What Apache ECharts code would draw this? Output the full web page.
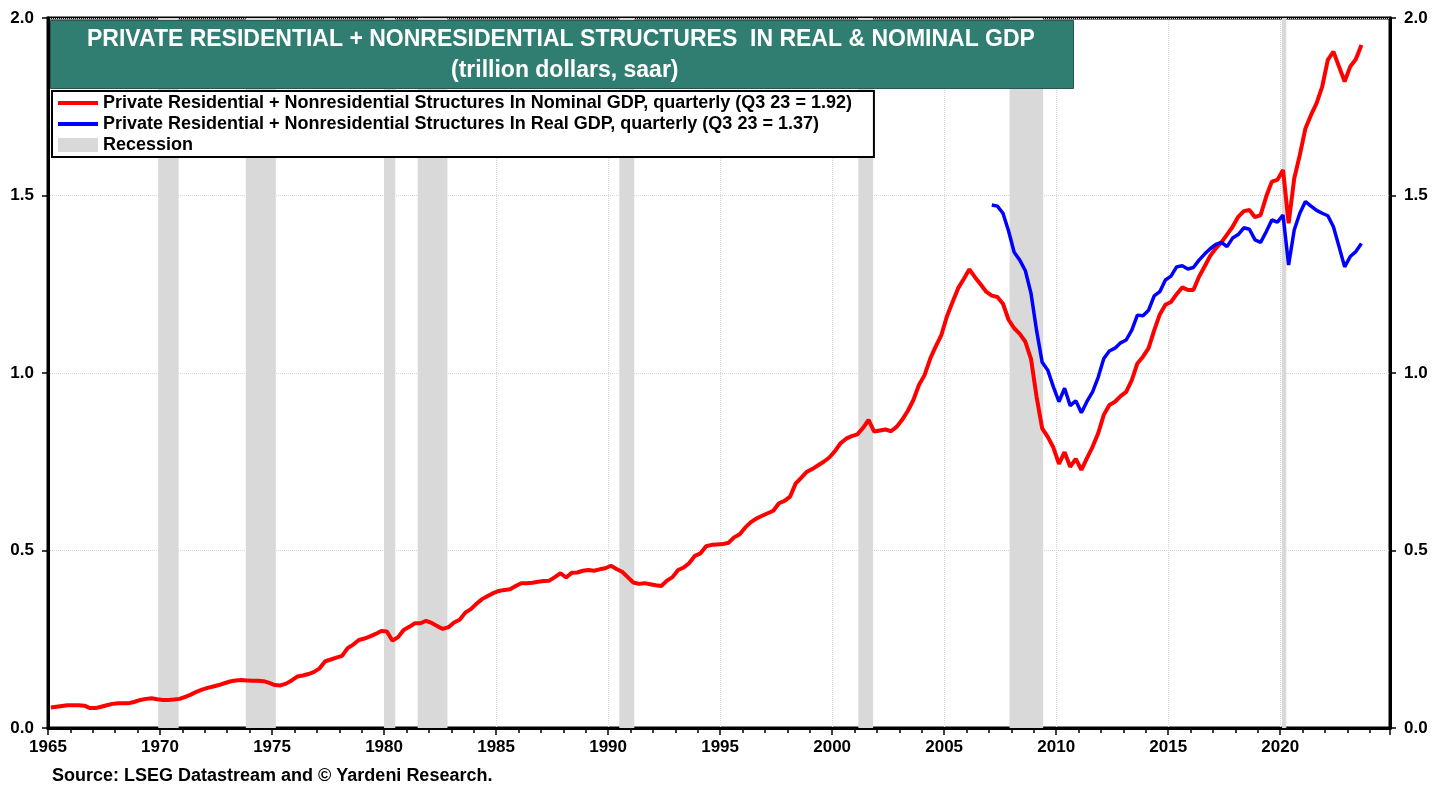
<!DOCTYPE html>
<html>
<head>
<meta charset="UTF-8">
<title>Private Residential + Nonresidential Structures</title>
<script src="https://cdn.jsdelivr.net/npm/echarts@6/dist/echarts.min.js"></script>
<style>
  html, body { margin: 0; padding: 0; background: #fff; }
  #main { width: 1448px; height: 790px; }
</style>
</head>
<body>
<div id="main"></div>
<script>
// quarterly values, trillion dollars saar
var nominalStart = 1965; // Q1 1965
var nominal = [
  0.058, 0.060, 0.062, 0.064,   // 1965
  0.064, 0.064, 0.063, 0.056,   // 1966
  0.056, 0.060, 0.064, 0.068,   // 1967
  0.070, 0.070, 0.070, 0.074,   // 1968
  0.079, 0.082, 0.084, 0.081,   // 1969
  0.079, 0.079, 0.080, 0.082,   // 1970
  0.088, 0.094, 0.102, 0.108,   // 1971
  0.113, 0.117, 0.121, 0.126,   // 1972
  0.131, 0.134, 0.135, 0.134,   // 1973
  0.133, 0.133, 0.132, 0.127,   // 1974
  0.121, 0.120, 0.125, 0.134,   // 1975
  0.145, 0.148, 0.152, 0.158,   // 1976
  0.168, 0.188, 0.193, 0.198,   // 1977
  0.203, 0.225, 0.235, 0.248,   // 1978
  0.252, 0.258, 0.265, 0.273,   // 1979
  0.272, 0.246, 0.256, 0.276,   // 1980
  0.285, 0.295, 0.295, 0.302,   // 1981
  0.296, 0.287, 0.279, 0.284,   // 1982
  0.297, 0.305, 0.325, 0.335,   // 1983
  0.350, 0.363, 0.372, 0.380,   // 1984
  0.386, 0.389, 0.391, 0.400,   // 1985
  0.408, 0.408, 0.409, 0.412,   // 1986
  0.414, 0.415, 0.425, 0.436,   // 1987
  0.424, 0.437, 0.438, 0.443,   // 1988
  0.445, 0.443, 0.447, 0.450,   // 1989
  0.457, 0.448, 0.440, 0.425,   // 1990
  0.410, 0.406, 0.408, 0.405,   // 1991
  0.402, 0.400, 0.415, 0.425,   // 1992
  0.445, 0.452, 0.465, 0.485,   // 1993
  0.492, 0.512, 0.516, 0.517,   // 1994
  0.518, 0.522, 0.537, 0.546,   // 1995
  0.565, 0.580, 0.590, 0.598,   // 1996
  0.605, 0.612, 0.633, 0.640,   // 1997
  0.652, 0.689, 0.705, 0.722,   // 1998
  0.730, 0.740, 0.750, 0.762,   // 1999
  0.780, 0.802, 0.815, 0.822,   // 2000
  0.827, 0.845, 0.868, 0.835,   // 2001
  0.838, 0.841, 0.836, 0.848,   // 2002
  0.868, 0.893, 0.924, 0.966,   // 2003
  0.994, 1.040, 1.075, 1.107,   // 2004
  1.160, 1.200, 1.239, 1.265,   // 2005
  1.292, 1.270, 1.250, 1.229,   // 2006
  1.218, 1.214, 1.195, 1.150,   // 2007
  1.126, 1.110, 1.088, 1.040,   // 2008
  0.933, 0.844, 0.820, 0.790,   // 2009
  0.744, 0.777, 0.736, 0.758,   // 2010
  0.727, 0.760, 0.792, 0.830,   // 2011
  0.882, 0.910, 0.919, 0.935,   // 2012
  0.947, 0.980, 1.027, 1.046,   // 2013
  1.070, 1.120, 1.165, 1.192,   // 2014
  1.200, 1.222, 1.241, 1.234,   // 2015
  1.234, 1.271, 1.300, 1.330,   // 2016
  1.351, 1.368, 1.390, 1.412,   // 2017
  1.440, 1.456, 1.459, 1.439,   // 2018
  1.445, 1.497, 1.539, 1.544,   // 2019
  1.572, 1.422, 1.548, 1.614,   // 2020
  1.689, 1.727, 1.760, 1.807,   // 2021
  1.882, 1.905, 1.863, 1.821,   // 2022
  1.863, 1.884, 1.924           // 2023
];

var realStart = 2007; // Q1 2007
var real = [
  1.473, 1.470, 1.450, 1.400,   // 2007
  1.340, 1.318, 1.288, 1.225,   // 2008
  1.120, 1.030, 1.008, 0.961,   // 2009
  0.919, 0.957, 0.908, 0.922,   // 2010
  0.888, 0.920, 0.947, 0.988,   // 2011
  1.041, 1.062, 1.070, 1.085,   // 2012
  1.093, 1.121, 1.163, 1.161,   // 2013
  1.177, 1.217, 1.229, 1.262,   // 2014
  1.273, 1.299, 1.302, 1.293,   // 2015
  1.297, 1.318, 1.335, 1.350,   // 2016
  1.362, 1.368, 1.356, 1.380,   // 2017
  1.390, 1.409, 1.405, 1.375,   // 2018
  1.368, 1.398, 1.431, 1.425,   // 2019
  1.445, 1.304, 1.403, 1.450,   // 2020
  1.483, 1.470, 1.458, 1.450,   // 2021
  1.443, 1.412, 1.356, 1.299,   // 2022
  1.328, 1.342, 1.365           // 2023
];

// NBER recessions (start, end) in decimal years
var recessions = [
  [1969.92, 1970.83],
  [1973.83, 1975.17],
  [1980.0, 1980.5],
  [1981.5, 1982.83],
  [1990.5, 1991.17],
  [2001.17, 2001.83],
  [2007.92, 2009.42],
  [2020.08, 2020.27]
];

var nominalName = 'Private Residential + Nonresidential Structures In Nominal GDP, quarterly (Q3 23 = 1.92)';
var realName = 'Private Residential + Nonresidential Structures In Real GDP, quarterly (Q3 23 = 1.37)';
var recessionName = 'Recession';
var titleLines = ['PRIVATE RESIDENTIAL + NONRESIDENTIAL STRUCTURES  IN REAL & NOMINAL GDP', '(trillion dollars, saar)'];
var sourceText = 'Source: LSEG Datastream and \u00a9 Yardeni Research.';

// quarter midpoints
function toPoints(start, vals) {
  return vals.map(function (v, i) {
    return [start + i / 4 + 0.125, v];
  });
}

var FONT = '"Liberation Sans", Arial, sans-serif';
var LINE_ICON = 'path://M0,0H40V4H0Z';

var chart = echarts.init(document.getElementById('main'));

var yAxisBase = {
  type: 'value',
  min: 0,
  max: 2,
  interval: 0.5,
  axisLine: { show: true, lineStyle: { color: '#000', width: 3 } },
  axisTick: { show: true, length: 6, lineStyle: { color: '#000', width: 1.5 } },
  axisLabel: {
    color: '#000', fontFamily: FONT, fontWeight: 'bold', fontSize: 17, margin: 14,
    formatter: function (v) { return v.toFixed(1); }
  },
  splitLine: { show: true, lineStyle: { color: '#d8d8d8', type: 'dotted', width: 1 } }
};

chart.setOption({
  animation: false,
  backgroundColor: '#fff',
  grid: {
    left: 48, right: 58, top: 18, bottom: 62,
    show: true, borderColor: '#000', borderWidth: 3, backgroundColor: 'transparent'
  },
  xAxis: {
    type: 'value',
    min: 1965,
    max: 2024.9,
    interval: 5,
    axisLine: { show: true, onZero: false, lineStyle: { color: '#000', width: 3 } },
    axisTick: { show: true, length: 7, lineStyle: { color: '#000', width: 1.5 } },
    minorTick: { show: true, splitNumber: 5, length: 5, lineStyle: { color: '#000', width: 1.5 } },
    axisLabel: {
      color: '#000', fontFamily: FONT, fontWeight: 'bold', fontSize: 17, margin: 11,
      showMaxLabel: false,
      formatter: function (v) { return String(v); }
    },
    splitLine: { show: true, lineStyle: { color: '#d8d8d8', type: 'dotted', width: 1 } }
  },
  yAxis: [
    Object.assign({}, yAxisBase, { position: 'left' }),
    Object.assign({}, yAxisBase, { position: 'right', splitLine: { show: false } })
  ],
  legend: {
    orient: 'vertical',
    left: 52,
    top: 91,
    itemWidth: 40,
    itemHeight: 14,
    itemGap: 3,
    padding: [3, 22, 3, 6],
    backgroundColor: '#fff',
    borderColor: '#000',
    borderWidth: 2,
    textStyle: { color: '#000', fontFamily: FONT, fontWeight: 'bold', fontSize: 18, lineHeight: 18 },
    selectedMode: false,
    data: [
      { name: nominalName, icon: LINE_ICON },
      { name: realName, icon: LINE_ICON },
      { name: recessionName, icon: 'rect' }
    ]
  },
  graphic: [
    {
      type: 'rect',
      left: 50, top: 20,
      shape: { width: 1023, height: 68 },
      style: { fill: '#307e72', stroke: '#24584f', lineWidth: 1 },
      z: 50
    },
    {
      type: 'text',
      left: 87, top: 28,
      style: {
        text: titleLines[0], fill: '#fff',
        font: 'bold 23px ' + FONT
      },
      z: 51
    },
    {
      type: 'text',
      left: 451, top: 59,
      style: {
        text: titleLines[1], fill: '#fff',
        font: 'bold 23px ' + FONT
      },
      z: 51
    },
    {
      type: 'text',
      left: 52, top: 767,
      style: {
        text: sourceText, fill: '#000',
        font: 'bold 18px ' + FONT
      }
    }
  ],
  series: [
    {
      name: recessionName,
      type: 'line',
      data: [],
      z: 1,
      itemStyle: { color: '#d9d9d9' },
      lineStyle: { color: '#d9d9d9' },
      markArea: {
        silent: true,
        itemStyle: { color: '#d9d9d9', opacity: 1 },
        data: recessions.map(function (r) {
          return [{ xAxis: r[0], yAxis: 0 }, { xAxis: r[1], yAxis: 2 }];
        })
      }
    },
    {
      name: nominalName,
      type: 'line',
      z: 4,
      showSymbol: false,
      symbol: 'none',
      itemStyle: { color: '#ff0000' },
      lineStyle: { color: '#ff0000', width: 4 },
      data: toPoints(nominalStart, nominal)
    },
    {
      name: realName,
      type: 'line',
      z: 5,
      showSymbol: false,
      symbol: 'none',
      itemStyle: { color: '#0000ff' },
      lineStyle: { color: '#0000ff', width: 3.5 },
      data: toPoints(realStart, real)
    }
  ]
});
</script>
</body>
</html>
